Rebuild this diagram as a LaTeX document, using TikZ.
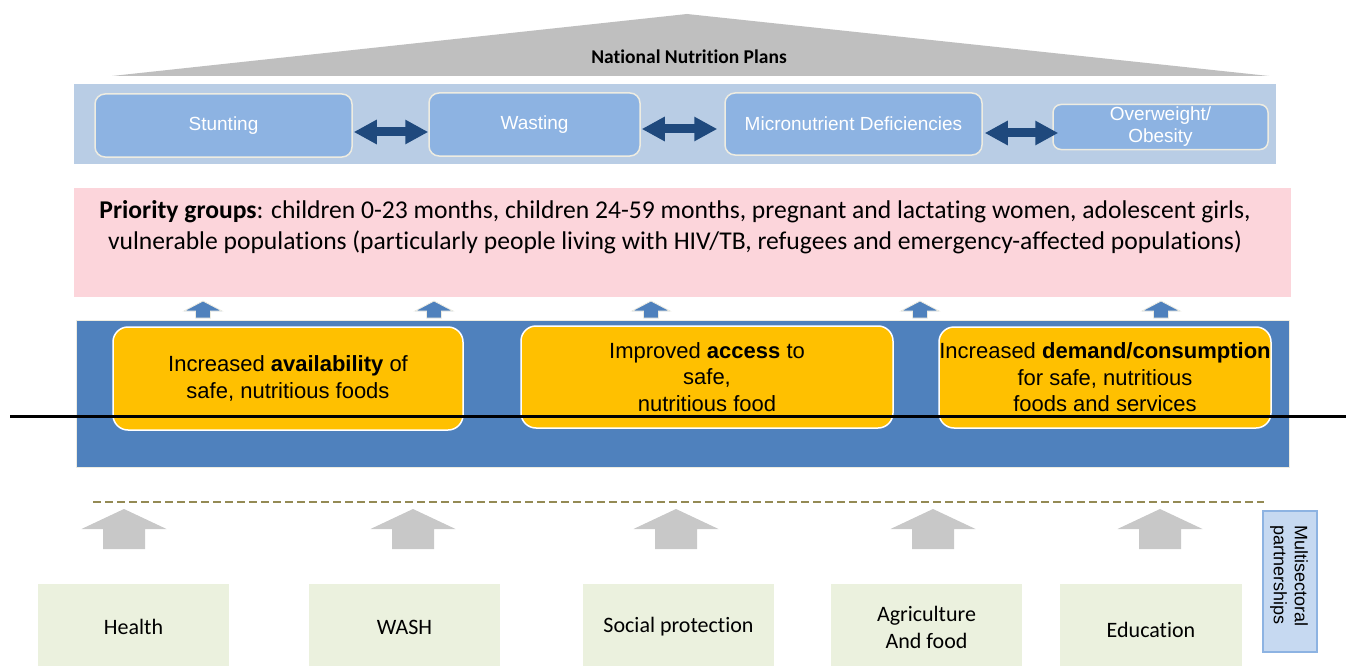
\documentclass[tikz,border=0pt]{standalone}
\usepackage{fontspec}
\setmainfont{Carlito}[Ligatures=NoCommon]
\newfontfamily\arialf{Liberation Sans}
\usetikzlibrary{arrows.meta,calc}
\definecolor{trigray}{HTML}{BFBFBF}
\definecolor{bandblue}{HTML}{B9CDE5}
\definecolor{topfill}{HTML}{8DB3E2}
\definecolor{boxedge}{HTML}{EEECE1}
\definecolor{dblue}{HTML}{1F497D}
\definecolor{pinkfill}{HTML}{FCD5DB}
\definecolor{midblue}{HTML}{4F81BD}
\definecolor{gold}{HTML}{FFC000}
\definecolor{arrgray}{HTML}{C8C8C8}
\definecolor{sectfill}{HTML}{EBF1DE}
\definecolor{msfill}{HTML}{C6D9F1}
\definecolor{msedge}{HTML}{8DB3E2}
\definecolor{olivedash}{HTML}{948A54}
\tikzset{
  topbox/.style={draw=boxedge, line width=1.5pt, fill=topfill, rounded corners=10pt,
    inner sep=0pt, text=white, font=\arialf\fontsize{19}{22}\selectfont, align=center},
  goalbox/.style={draw=white, line width=1.5pt, fill=gold, rounded corners=15pt,
    inner sep=0pt, text=black, font=\arialf\fontsize{22}{26.5}\selectfont, align=center},
  sectbox/.style={fill=sectfill, inner sep=0pt, font=\fontsize{22}{27}\selectfont, align=center},
  dblarr/.style={draw=dblue, line width=9pt,
    {Triangle[length=23pt,width=23pt]}-{Triangle[length=23pt,width=23pt]}},
  grayup/.pic={\fill[arrgray] (-42.5,0) -- (0,-20) -- (42.5,0) -- (21,0) -- (21,20)
    -- (-21,20) -- (-21,0) -- cycle;},
  blueup/.pic={\filldraw[fill=midblue, draw=boxedge, line width=0.8pt] (-19,0) -- (0,-10) -- (19,0)
    -- (7.5,0) -- (7.5,7) -- (-7.5,7) -- (-7.5,0) -- cycle;}
}
\begin{document}
\begin{tikzpicture}[x=1pt,y=-1pt]
\useasboundingbox (0,0) rectangle (1346,666);
\fill[white] (0,0) rectangle (1346,666);

% National Nutrition Plans roof
\fill[trigray] (112,76) -- (687,14) -- (1269,76) -- cycle;
\node[font=\bfseries\fontsize{19.5}{22}\selectfont, inner sep=0pt] (npl) at (689,57) {National Nutrition Plans};

% band of problems
\node[fill=bandblue, minimum width=1202pt, minimum height=80pt, inner sep=0pt] (band) at (675,124) {};
\node[topbox, minimum width=257pt, minimum height=63pt] (stunt) at (223.5,125.5) {Stunting};
\node[topbox, minimum width=211pt, minimum height=63pt] (wast) at (534.5,124.5) {Wasting};
\node[topbox, minimum width=257pt, minimum height=62pt] (micro) at (853.5,124) {Micronutrient Deficiencies};
\node[topbox, minimum width=215pt, minimum height=45pt, rounded corners=8pt,
      font=\arialf\fontsize{19}{22}\selectfont] (over) at (1160.5,127) {Overweight/\\Obesity};
\draw[dblarr] ($(stunt.east)+(1,6.5)$) -- ($(wast.west)+(0,7.5)$);
\draw[dblarr] ($(wast.east)+(1,4.5)$) -- ($(micro.west)+(-7,5)$);
\draw[dblarr] ($(micro.east)+(2,9)$) -- ($(over.west)+(6,6)$);

% priority groups
\node[fill=pinkfill, minimum width=1217pt, minimum height=109pt, inner sep=0pt] (prio) at (682.5,242.5) {};
\node[font=\fontsize{25.6}{31}\selectfont, align=center, inner sep=0pt] (priotext) at (675,227)
  {\textbf{Priority groups}: children 0-23 months, children 24-59 months, pregnant and lactating women, adolescent girls,\\
   vulnerable populations (particularly people living with HIV/TB, refugees and emergency-affected populations)};

% small blue arrows
\foreach \xx in {203,434,651,920,1161} \pic at (\xx,311) {blueup};

% outcomes
\node[fill=midblue, draw=boxedge, line width=0.8pt, minimum width=1213pt, minimum height=147pt, inner sep=0pt] (outc) at (682.5,393.5) {};
\node[goalbox, minimum width=350pt, minimum height=103pt] (avail) at (288,378.5)
  {Increased \textbf{availability} of\\safe, nutritious foods};
\node[goalbox, minimum width=372pt, minimum height=102pt] (access) at (707,377)
  {Improved \textbf{access} to\\safe,\\nutritious food};
\node[goalbox, minimum width=332pt, minimum height=101pt] (demand) at (1105,377.5)
  {Increased \textbf{demand/consumption}\\for safe, nutritious\\foods and services};

% black rule across
\draw[line width=3pt] (10,416) -- (1346,416);

% dashed line
\draw[olivedash, line width=2.5pt, dash pattern=on 8pt off 4pt] (93,502) -- (1264,502);

% gray arrows
\foreach \xx in {124,413,676,933,1160} \pic at (\xx,529) {grayup};

% sectors (boxes run past the lower edge of the page)
\node[sectbox, minimum width=191pt, minimum height=86pt] (health) at (133.5,627) {Health};
\node[sectbox, minimum width=191pt, minimum height=86pt] (wash) at (404.5,627) {WASH};
\node[sectbox, minimum width=191pt, minimum height=86pt] (social) at (678.5,627) {Social protection};
\node[sectbox, minimum width=191pt, minimum height=86pt] (agri) at (926.5,627) {Agriculture\\And food};
\node[sectbox, minimum width=182pt, minimum height=92pt] (edu) at (1151,630) {Education};

% multisectoral partnerships
\node[fill=msfill, draw=msedge, line width=1.5pt, minimum width=54pt, minimum height=141pt, inner sep=0pt] (multi) at (1290,581.5) {};
\node[rotate=-90, anchor=west, align=left, inner sep=0pt, font=\arialf\fontsize{18}{21}\selectfont] (multitext) at (1289,525) {Multisectoral\\partnerships};
\end{tikzpicture}
\end{document}
